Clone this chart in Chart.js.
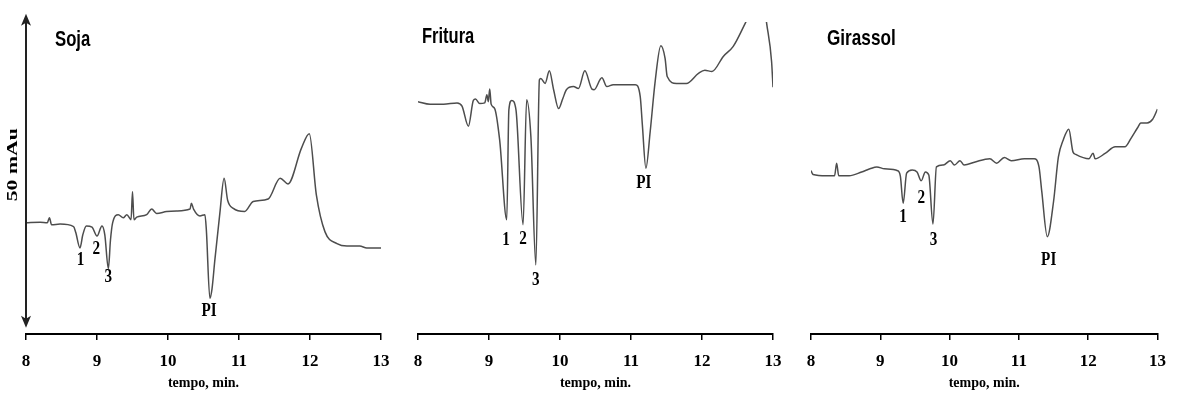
<!DOCTYPE html>
<html>
<head>
<meta charset="utf-8">
<script src="https://cdn.jsdelivr.net/npm/chart.js@4.4.1/dist/chart.umd.min.js"></script>
<style>
html, body { margin: 0; padding: 0; background: #fff; width: 1178px; height: 400px; overflow: hidden; }
canvas { position: absolute; top: 0; }
</style>
</head>
<body>
<canvas id="c1" width="395" height="400" style="left:6px"></canvas>
<canvas id="c2" width="395" height="400" style="left:398px"></canvas>
<canvas id="c3" width="386" height="400" style="left:791px"></canvas>
<script>
// ---------- data (time in min, signal in mAU) ----------
const xTicks = [8, 9, 10, 11, 12, 13];
const axisTitle = 'tempo, min.';
const panelTitles = ['Soja', 'Fritura', 'Girassol'];
const scaleBarLabel = '50 mAu';
const scaleBarRange = [1, 51];

const sojaTime = [8.00, 8.20, 8.30, 8.33, 8.36, 8.48, 8.67, 8.70, 8.76, 8.80, 8.85, 8.93, 9.00, 9.07, 9.11, 9.16, 9.19, 9.22, 9.30, 9.37, 9.42, 9.48, 9.50, 9.52, 9.56, 9.70, 9.77, 9.84, 9.98, 10.12, 10.31, 10.33, 10.36, 10.45, 10.52, 10.54, 10.59, 10.62, 10.66, 10.73, 10.79, 10.84, 10.92, 11.08, 11.20, 11.41, 11.58, 11.69, 11.88, 11.99, 12.09, 12.21, 12.38, 12.52, 12.70, 12.80, 13.00];
const sojaSignal = [17.7, 17.8, 17.7, 18.5, 17.4, 17.5, 17.1, 16.2, 13.7, 15.8, 17.2, 17.0, 15.6, 17.2, 15.8, 10.4, 15.0, 17.7, 19.0, 18.5, 19.0, 18.2, 22.7, 18.2, 18.6, 19.0, 19.9, 19.2, 19.5, 19.6, 19.9, 20.8, 19.9, 18.8, 19.0, 16.6, 5.7, 7.2, 11.8, 19.2, 24.8, 21.3, 20.0, 19.5, 21.1, 21.5, 24.8, 23.9, 29.6, 31.9, 22.1, 16.3, 14.4, 14.0, 14.0, 13.7, 13.7];
const sojaPeakText = ['1', '2', '3', 'PI'];
const sojaPeakTime = [8.77, 8.99, 9.16, 10.58];
const sojaPeakLevel = [11.8, 13.5, 9.1, 3.7];

const frituraTime = [8.00, 8.17, 8.36, 8.55, 8.62, 8.71, 8.78, 8.81, 8.87, 8.94, 8.97, 8.99, 9.01, 9.03, 9.08, 9.15, 9.25, 9.28, 9.32, 9.38, 9.48, 9.53, 9.59, 9.66, 9.71, 9.73, 9.79, 9.85, 9.91, 9.98, 10.04, 10.09, 10.19, 10.26, 10.35, 10.45, 10.48, 10.59, 10.66, 10.75, 10.89, 11.06, 11.13, 11.16, 11.21, 11.27, 11.34, 11.42, 11.48, 11.51, 11.64, 11.78, 11.95, 12.04, 12.14, 12.30, 12.44, 12.61, 12.68, 12.78, 12.87, 12.91, 12.98, 13.00];
const frituraSignal = [37.0, 36.6, 36.6, 36.8, 36.3, 33.1, 37.2, 37.4, 36.7, 36.8, 38.1, 37.0, 39.0, 36.6, 35.9, 30.9, 18.2, 35.7, 37.2, 35.7, 17.4, 37.3, 31.4, 11.0, 40.5, 40.7, 39.9, 41.9, 38.9, 35.9, 37.5, 38.9, 39.4, 39.1, 41.9, 39.0, 38.9, 40.8, 39.4, 39.7, 39.7, 39.7, 37.8, 33.3, 26.4, 32.2, 40.2, 45.9, 43.9, 41.0, 39.9, 39.9, 41.5, 42.0, 41.8, 44.2, 45.8, 49.5, 51.1, 54.0, 52.8, 49.5, 43.4, 39.3];
const frituraPeakText = ['1', '2', '3', 'PI'];
const frituraPeakTime = [9.24, 9.48, 9.66, 11.18];
const frituraPeakLevel = [15.0, 15.1, 8.6, 24.1];

const girassolTime = [8.00, 8.03, 8.22, 8.34, 8.37, 8.40, 8.55, 8.73, 8.85, 8.95, 9.06, 9.25, 9.29, 9.33, 9.38, 9.46, 9.53, 9.59, 9.65, 9.70, 9.76, 9.81, 9.91, 10.01, 10.07, 10.15, 10.21, 10.37, 10.58, 10.68, 10.79, 10.89, 11.08, 11.22, 11.29, 11.33, 11.41, 11.50, 11.57, 11.64, 11.72, 11.78, 11.82, 12.01, 12.07, 12.10, 12.25, 12.39, 12.53, 12.62, 12.71, 12.76, 12.85, 12.93, 13.00];
const girassolSignal = [26.0, 25.4, 25.2, 25.2, 27.2, 25.2, 25.2, 25.8, 26.3, 26.6, 26.3, 26.0, 25.1, 20.8, 25.6, 26.1, 25.8, 24.4, 25.8, 25.3, 17.5, 26.6, 26.9, 27.6, 26.9, 27.6, 26.9, 27.4, 27.9, 27.2, 28.1, 27.6, 27.9, 27.9, 26.6, 22.7, 15.5, 21.1, 28.2, 30.9, 32.6, 29.0, 28.6, 27.9, 28.8, 27.9, 28.8, 29.8, 29.8, 31.2, 32.8, 33.6, 33.6, 34.2, 35.8];
const girassolPeakText = ['1', '2', '3', 'PI'];
const girassolPeakTime = [9.33, 9.59, 9.77, 11.43];
const girassolPeakLevel = [18.6, 21.7, 15.0, 11.8];

// ---------- drawing ----------
const SERIF = '"Liberation Serif", "Times New Roman", serif';
const SANS = '"Liberation Sans", Arial, sans-serif';

const overlay = {
  id: 'overlay',
  afterDatasetsDraw(chart, args, o) {
    const { ctx, chartArea: ca, scales: { x, y } } = chart;
    ctx.save();
    ctx.fillStyle = '#000';
    // panel title
    ctx.save();
    ctx.font = 'bold 22px ' + SANS;
    ctx.textAlign = 'left';
    ctx.textBaseline = 'alphabetic';
    ctx.translate(ca.left + o.titleDx, o.titleBaseline);
    ctx.scale(o.titleSqueeze, 1);
    ctx.fillText(o.title, 0, 0);
    ctx.restore();
    // peak labels
    ctx.font = 'bold 19px ' + SERIF;
    ctx.textAlign = 'center';
    ctx.textBaseline = 'middle';
    o.texts.forEach((t, i) => {
      ctx.save();
      ctx.translate(x.getPixelForValue(o.times[i]), y.getPixelForValue(o.levels[i]));
      ctx.scale(0.8, 1);
      ctx.fillText(t, 0, 0);
      ctx.restore();
    });
    // scale bar
    if (o.bar) {
      const xb = ca.left;
      const yTop = y.getPixelForValue(o.bar[1]);
      const yBot = y.getPixelForValue(o.bar[0]);
      ctx.strokeStyle = '#222';
      ctx.fillStyle = '#222';
      ctx.lineWidth = 2;
      ctx.beginPath();
      ctx.moveTo(xb, yTop + 6);
      ctx.lineTo(xb, yBot - 6);
      ctx.stroke();
      ctx.beginPath();
      ctx.moveTo(xb, yTop); ctx.lineTo(xb - 5, yTop + 12); ctx.lineTo(xb, yTop + 9); ctx.lineTo(xb + 5, yTop + 12);
      ctx.closePath(); ctx.fill();
      ctx.beginPath();
      ctx.moveTo(xb, yBot); ctx.lineTo(xb - 5, yBot - 12); ctx.lineTo(xb, yBot - 9); ctx.lineTo(xb + 5, yBot - 12);
      ctx.closePath(); ctx.fill();
      ctx.save();
      ctx.fillStyle = '#000';
      ctx.font = 'bold 15px ' + SERIF;
      ctx.textAlign = 'center';
      ctx.textBaseline = 'middle';
      ctx.translate(xb - 12.5, (yTop + yBot) / 2 - 6);
      ctx.rotate(-Math.PI / 2);
      ctx.scale(1.45, 1);
      ctx.fillText(o.barLabel, 0, 0);
      ctx.restore();
    }
    ctx.restore();
  }
};

function makePanel(id, times, signal, title, titleDx, titleBaseline, titleSqueeze, texts, ptimes, plevels, padRight, bar) {
  new Chart(document.getElementById(id), {
    type: 'line',
    data: {
      datasets: [{
        data: times.map((t, i) => ({ x: t, y: signal[i] })),
        borderColor: '#4d4d4d',
        borderWidth: 1.5,
        pointRadius: 0,
        fill: false,
        cubicInterpolationMode: 'monotone'
      }]
    },
    options: {
      responsive: false,
      animation: false,
      events: [],
      layout: { padding: { left: 20, right: padRight, top: 22, bottom: 7.8 } },
      scales: {
        x: {
          type: 'linear',
          min: 8, max: 13,
          afterBuildTicks: (s) => { s.ticks = xTicks.map(v => ({ value: v })); },
          ticks: { color: '#000', padding: 11, maxRotation: 0, font: { family: SERIF, size: 17, weight: 'bold', lineHeight: 1.2 } },
          grid: { display: true, drawOnChartArea: false, drawTicks: true, tickLength: 6, color: '#000', lineWidth: 1.5 },
          border: { display: true, color: '#000', width: 2 },
          title: { display: true, text: axisTitle, color: '#000', padding: { top: -7, bottom: 0 }, font: { family: SERIF, size: 14, weight: 'bold', lineHeight: 1.2 } }
        },
        y: { display: false, min: 0, max: 49.68 }
      },
      plugins: {
        legend: { display: false },
        tooltip: { enabled: false },
        overlay: {
          title, titleDx, titleBaseline, titleSqueeze,
          texts, times: ptimes, levels: plevels,
          bar, barLabel: scaleBarLabel
        }
      }
    },
    plugins: [overlay]
  });
}

makePanel('c1', sojaTime, sojaSignal, panelTitles[0], 29, 46, 0.76, sojaPeakText, sojaPeakTime, sojaPeakLevel, 20, scaleBarRange);
makePanel('c2', frituraTime, frituraSignal, panelTitles[1], 4, 43, 0.75, frituraPeakText, frituraPeakTime, frituraPeakLevel, 20, null);
makePanel('c3', girassolTime, girassolSignal, panelTitles[2], 16, 45, 0.78, girassolPeakText, girassolPeakTime, girassolPeakLevel, 10, null);
</script>
</body>
</html>
